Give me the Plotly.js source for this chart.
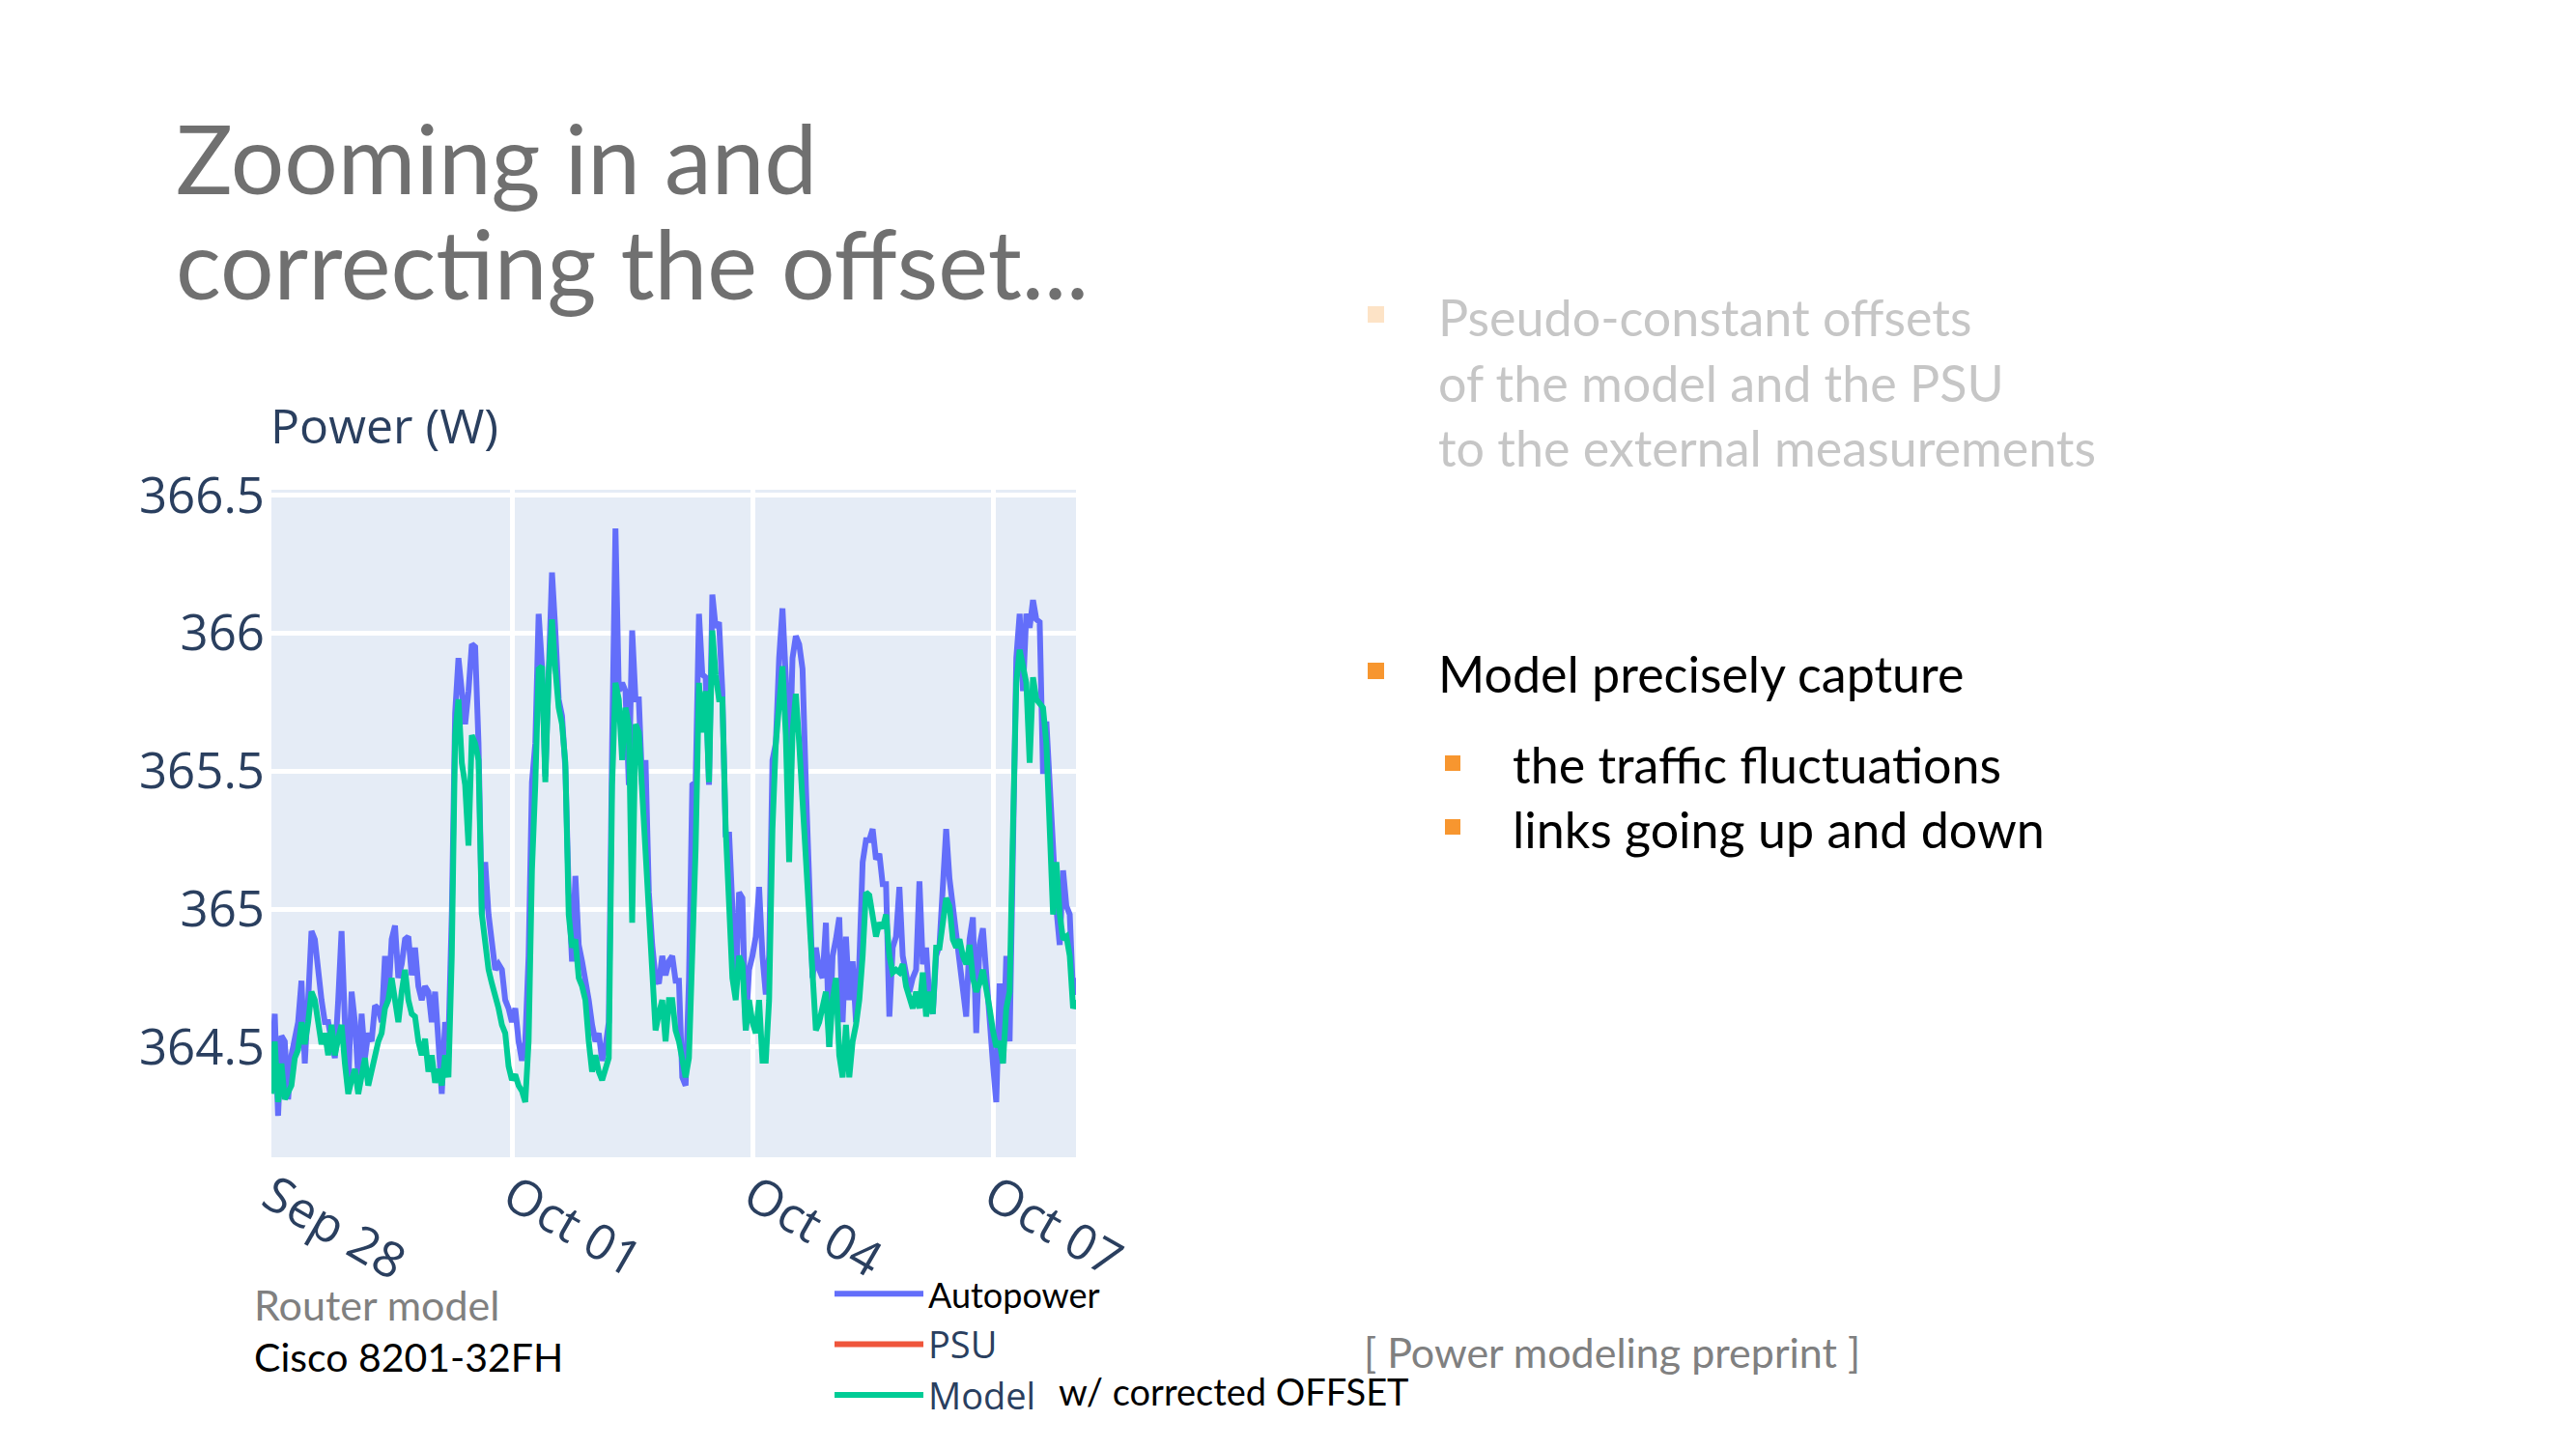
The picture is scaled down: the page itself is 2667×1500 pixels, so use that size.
<!DOCTYPE html>
<html>
<head>
<meta charset="utf-8">
<script src="https://cdn.plot.ly/plotly-3.0.1.min.js"></script>
<style>
  html, body { margin: 0; padding: 0; background: #ffffff; }
  #chart { width: 2667px; height: 1500px; }
</style>
</head>
<body>
<div id="chart"></div>
<script>
// ---------------- data (hourly samples starting Sep 28, 00:00) ----------------
const startTime = '2023-09-28 00:00:00';
const stepHours = 1;

const autopowerW = [
  364.39, 364.62, 364.25, 364.54, 364.52, 364.31, 364.47, 364.52, 364.59, 364.74,
  364.44, 364.67, 364.92, 364.89, 364.76, 364.67, 364.59, 364.59, 364.52, 364.46,
  364.67, 364.92, 364.59, 364.36, 364.70, 364.59, 364.39, 364.62, 364.46, 364.55,
  364.52, 364.65, 364.64, 364.59, 364.83, 364.67, 364.89, 364.94, 364.75, 364.80,
  364.89, 364.90, 364.76, 364.86, 364.72, 364.67, 364.72, 364.70, 364.59, 364.70,
  364.52, 364.33, 364.59, 364.52, 364.98, 365.71, 365.91, 365.79, 365.67, 365.79,
  365.96, 365.95, 365.60, 364.98, 365.17, 364.98, 364.86, 364.78, 364.80, 364.78,
  364.67, 364.64, 364.59, 364.64, 364.52, 364.45, 364.52, 364.83, 365.46, 365.60,
  366.07, 365.88, 365.48, 365.79, 366.22, 366.01, 365.76, 365.70, 365.51, 365.06,
  364.81, 365.12, 364.87, 364.81, 364.75, 364.67, 364.58, 364.52, 364.55, 364.45,
  364.50, 364.59, 365.60, 366.38, 365.79, 365.82, 365.79, 365.45, 366.01, 365.76,
  365.76, 365.45, 365.54, 365.06, 364.87, 364.75, 364.73, 364.83, 364.76, 364.81,
  364.83, 364.74, 364.74, 364.39, 364.36, 364.74, 365.45, 365.46, 366.07, 365.85,
  365.84, 365.45, 366.14, 366.02, 366.04, 365.79, 365.26, 365.28, 365.01, 364.69,
  365.06, 365.04, 364.56, 364.78, 364.83, 364.90, 365.08, 364.83, 364.69, 364.83,
  365.54, 365.60, 365.91, 366.09, 365.84, 365.46, 365.91, 365.99, 365.96, 365.87,
  365.45, 365.14, 364.75, 364.86, 364.78, 364.75, 364.95, 364.50, 364.83, 364.89,
  364.97, 364.59, 364.90, 364.67, 364.81, 364.59, 364.81, 365.17, 365.25, 365.25,
  365.29, 365.18, 365.20, 365.09, 365.09, 364.61, 364.86, 364.90, 365.08, 364.83,
  364.75, 364.70, 364.75, 364.78, 365.10, 364.80, 364.86, 364.67, 364.62, 364.83,
  364.87, 365.06, 365.29, 365.11, 365.01, 364.95, 364.84, 364.75, 364.61, 364.89,
  364.97, 364.55, 364.87, 364.93, 364.75, 364.59, 364.44, 364.30, 364.73, 364.44,
  364.83, 364.52, 365.29, 365.91, 366.07, 365.79, 366.07, 366.02, 366.12, 366.05,
  366.04, 365.49, 365.68, 365.42, 365.17, 365.00, 364.87, 365.14, 365.01, 364.98,
  364.69, 364.75
];

const modelW = [
  364.33, 364.52, 364.30, 364.44, 364.31, 364.33, 364.36, 364.46, 364.49, 364.59,
  364.51, 364.59, 364.70, 364.67, 364.59, 364.51, 364.55, 364.47, 364.58, 364.47,
  364.53, 364.58, 364.44, 364.33, 364.38, 364.42, 364.33, 364.39, 364.46, 364.36,
  364.42, 364.48, 364.52, 364.55, 364.64, 364.67, 364.75, 364.67, 364.59, 364.70,
  364.78, 364.67, 364.62, 364.61, 364.52, 364.47, 364.53, 364.41, 364.47, 364.37,
  364.42, 364.36, 364.47, 364.39, 364.83, 365.63, 365.76, 365.53, 365.45, 365.23,
  365.63, 365.60, 365.54, 364.98, 364.87, 364.78, 364.73, 364.69, 364.64, 364.58,
  364.55, 364.43, 364.38, 364.40, 364.36, 364.34, 364.30, 364.52, 365.14, 365.45,
  365.87, 365.88, 365.46, 365.85, 366.05, 365.87, 365.73, 365.67, 365.53, 364.98,
  364.86, 364.89, 364.75, 364.72, 364.67, 364.52, 364.41, 364.47, 364.41, 364.38,
  364.42, 364.46, 365.45, 365.82, 365.76, 365.54, 365.73, 365.67, 364.95, 365.67,
  365.64, 365.42, 365.20, 364.98, 364.72, 364.56, 364.62, 364.67, 364.52, 364.67,
  364.67, 364.56, 364.52, 364.46, 364.39, 364.46, 364.83, 365.22, 365.82, 365.64,
  365.79, 365.46, 366.01, 365.85, 365.76, 365.76, 365.29, 364.98, 364.75, 364.67,
  364.83, 364.80, 364.56, 364.67, 364.59, 364.55, 364.67, 364.45, 364.45, 364.67,
  365.29, 365.60, 365.73, 365.88, 365.63, 365.17, 365.64, 365.78, 365.60, 365.40,
  365.14, 364.98, 364.73, 364.56, 364.59, 364.64, 364.70, 364.50, 364.67, 364.75,
  364.47, 364.39, 364.58, 364.39, 364.52, 364.58, 364.67, 364.83, 365.06, 365.05,
  364.98, 364.90, 364.95, 364.93, 364.98, 364.83, 364.77, 364.78, 364.77, 364.80,
  364.72, 364.67, 364.64, 364.70, 364.64, 364.77, 364.61, 364.70, 364.62, 364.86,
  364.86, 364.95, 365.04, 365.01, 364.89, 364.86, 364.89, 364.83, 364.80, 364.87,
  364.75, 364.70, 364.73, 364.78, 364.72, 364.64, 364.56, 364.50, 364.52, 364.44,
  364.64, 364.70, 365.29, 365.82, 365.94, 365.88, 365.82, 365.53, 365.84, 365.76,
  365.74, 365.73, 365.60, 365.29, 364.98, 365.17, 364.98, 364.89, 364.90, 364.83,
  364.64, 364.67
];

// PSU: shown in the legend only; none of its points fall inside this zoomed view
const psuW = [null];

const seriesNames = ['Autopower', 'PSU', 'Model'];
const xRange = ['2023-09-28 00:00', '2023-10-08 00:52'];
const yRange = [364.1, 366.52];
const yTickVals = [364.5, 365, 365.5, 366, 366.5];
const xTickStart = '2023-09-28';
const xTickDays = 3;

// ---------------- build timestamps ----------------
function stamp(i) {
  const base = Date.parse(startTime.replace(' ', 'T') + 'Z');
  const d = new Date(base + i * stepHours * 3600000);
  return d.toISOString().slice(0, 19).replace('T', ' ');
}
const times = autopowerW.map((_, i) => stamp(i));

// ---------------- page geometry helpers ----------------
const W = 2667, H = 1500;
const PL = 281, PR = 1114, PT = 507, PB = 1198;
const px = x => (x - PL) / (PR - PL);
const py = y => (PB - y) / (PB - PT);

const slideFont = 'Lato, "DejaVu Sans", sans-serif';
const plotFont = '"Open Sans", Verdana, Arial, sans-serif';

const traces = [
  { type: 'scatter', mode: 'lines',
    name: '<span style="font-family:Lato;font-size:36px;color:#000000">' + seriesNames[0] + '</span>',
    x: times, y: autopowerW, line: { color: '#636efa', width: 6 } },
  { type: 'scatter', mode: 'lines', name: seriesNames[1],
    x: psuW.map((_, i) => stamp(i)), y: psuW, line: { color: '#EF553B', width: 6 } },
  { type: 'scatter', mode: 'lines', name: seriesNames[2],
    x: times, y: modelW, line: { color: '#00cc96', width: 6 } }
];

function txt(text, x, y, size, color, font, anchor) {
  return { text: text, xref: 'paper', yref: 'paper', x: px(x), y: py(y),
    xanchor: anchor || 'left', yanchor: 'middle', showarrow: false,
    font: { family: font || slideFont, size: size, color: color } };
}

const annotations = [
  txt('Zooming in and', 180, 163, 98, '#707070'),
  txt('correcting the offset...', 180, 272, 98, '#707070'),
  txt('Pseudo-constant offsets', 1487, 328, 52, '#c6c6c6'),
  txt('of the model and the PSU', 1487, 396, 52, '#c6c6c6'),
  txt('to the external measurements', 1487, 463, 52, '#c6c6c6'),
  txt('Model precisely capture', 1487, 697, 52, '#000000'),
  txt('the traffic fluctuations', 1564, 791, 52, '#000000'),
  txt('links going up and down', 1564, 858, 52, '#000000'),
  txt('Router model', 261, 1350, 43, '#808080'),
  txt('Cisco 8201-32FH', 261, 1404, 41, '#000000'),
  txt('[ Power modeling preprint ]', 1410, 1399, 43, '#808080'),
  txt('w/ corrected OFFSET', 1094, 1440, 38, '#000000'),
  txt('Power (W)', 278, 440, 50, '#2a3f5f', plotFont)
];

function sq(x0, y0, size, color) {
  return { type: 'rect', xref: 'paper', yref: 'paper', x0: px(x0), x1: px(x0 + size),
    y0: py(y0 + size), y1: py(y0), line: { width: 0 }, fillcolor: color, layer: 'above' };
}
const shapes = [
  sq(1416, 317, 17, '#fde3c6'),
  sq(1416, 686, 17, '#f7962f'),
  sq(1496, 782, 16, '#f7962f'),
  sq(1496, 848, 16, '#f7962f')
];

const layout = {
  width: W, height: H,
  margin: { l: PL, r: W - PR, t: PT, b: H - PB, pad: 0 },
  paper_bgcolor: '#ffffff',
  plot_bgcolor: '#E5ECF6',
  font: { family: plotFont, color: '#2a3f5f' },
  showlegend: true,
  legend: {
    x: px(859), y: py(1308), xanchor: 'left', yanchor: 'top',
    bgcolor: 'rgba(0,0,0,0)', font: { family: plotFont, size: 38, color: '#2a3f5f' },
    itemwidth: 92, tracegroupgap: 0
  },
  xaxis: {
    type: 'date', range: xRange, tick0: xTickStart, dtick: xTickDays * 86400000,
    tickformat: '%b %d', tickangle: 30, showgrid: true, gridcolor: '#ffffff', gridwidth: 5,
    zeroline: false, showline: false, ticks: '', ticklen: 0,
    tickfont: { family: plotFont, size: 51, color: '#2a3f5f' }
  },
  yaxis: {
    range: yRange, tickvals: yTickVals, showgrid: true, gridcolor: '#ffffff', gridwidth: 5,
    zeroline: false, showline: false, ticks: '', ticklabelstandoff: 6,
    tickfont: { family: plotFont, size: 51, color: '#2a3f5f' }
  },
  annotations: annotations,
  shapes: shapes
};

Plotly.newPlot('chart', traces, layout, { staticPlot: true, displayModeBar: false });
</script>
</body>
</html>
